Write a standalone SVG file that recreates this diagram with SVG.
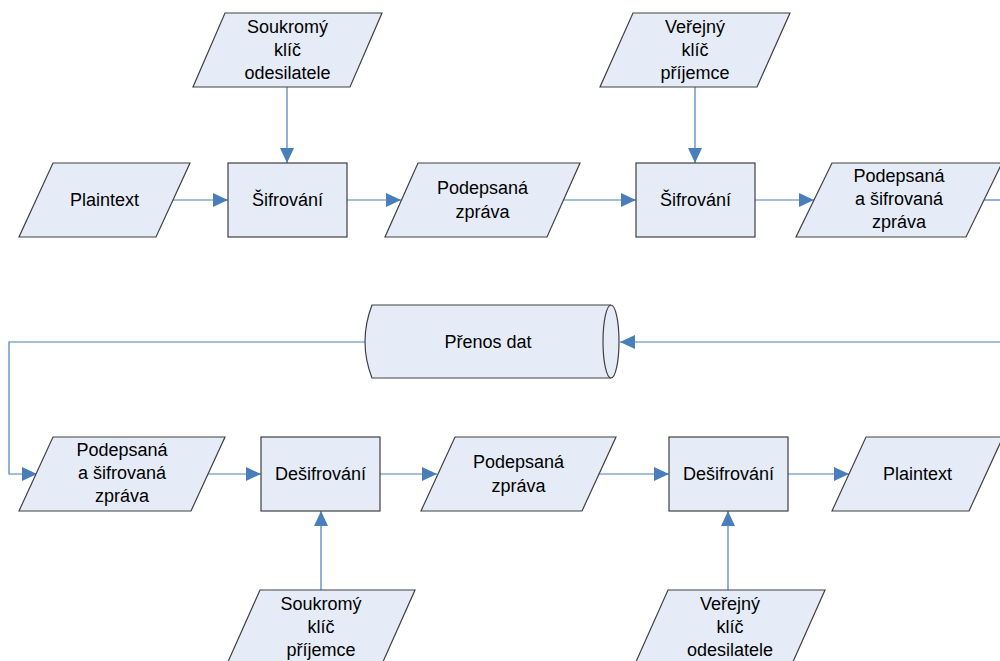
<svg xmlns="http://www.w3.org/2000/svg" width="1000" height="661" viewBox="0 0 1000 661">
<defs>
<marker id="ah" viewBox="0 0 15 14" refX="15" refY="7" markerWidth="15" markerHeight="14" markerUnits="userSpaceOnUse" orient="auto">
<path d="M0,0 L15,7 L0,14 Z" fill="#4A7EBB"/>
</marker>
<style>
.s{fill:#E6ECF7;stroke:#404040;stroke-width:1.2}
.t{font-family:"Liberation Sans",Arial,sans-serif;font-size:18px;fill:#000;text-anchor:middle}
.c{fill:none;stroke:#4A7EBB;stroke-width:1.2}
.a{marker-end:url(#ah)}
</style>
</defs>
<rect width="1000" height="661" fill="#fff"/>
<g id="connectors">
<path class="c a" d="M287,87 V163"/>
<path class="c a" d="M173,200 H228"/>
<path class="c a" d="M347,200 H401"/>
<path class="c a" d="M695,87 V163"/>
<path class="c a" d="M564,200 H636"/>
<path class="c a" d="M755,200 H814"/>
<path class="c" d="M983,200 H1000"/>
<path class="c a" d="M1000,342 H620"/>
<path class="c a" d="M365,342 H9 V474 H37"/>
<path class="c a" d="M208,474 H261"/>
<path class="c a" d="M380,474 H437"/>
<path class="c a" d="M599,474 H669"/>
<path class="c a" d="M788,474 H849"/>
<path class="c a" d="M321,590 V511"/>
<path class="c a" d="M728,590 V511"/>
</g>
<g id="n_sk_odes">
<polygon class="s" points="225,13 382,13 350,87 193,87"/>
<text class="t" x="287.5" y="33">Soukromý</text>
<text class="t" x="287.5" y="56">klíč</text>
<text class="t" x="287.5" y="79">odesilatele</text>
</g>
<g id="n_plain1">
<polygon class="s" points="53,163 190,163 156,237 19,237"/>
<text class="t" x="104.5" y="206">Plaintext</text>
</g>
<g id="n_sifr1">
<rect class="s" x="228" y="163" width="119" height="74"/>
<text class="t" x="287.5" y="206">Šifrování</text>
</g>
<g id="n_podep1">
<polygon class="s" points="418,163 580,163 547,237 385,237"/>
<text class="t" x="482.5" y="194">Podepsaná</text>
<text class="t" x="482.5" y="218">zpráva</text>
</g>
<g id="n_ver_prij">
<polygon class="s" points="633,13 790,13 757,87 600,87"/>
<text class="t" x="695" y="33">Veřejný</text>
<text class="t" x="695" y="56">klíč</text>
<text class="t" x="695" y="79">příjemce</text>
</g>
<g id="n_sifr2">
<rect class="s" x="636" y="163" width="119" height="74"/>
<text class="t" x="695.5" y="206">Šifrování</text>
</g>
<g id="n_podsif1">
<polygon class="s" points="832,163 1002,163 966,237 796,237"/>
<text class="t" x="899" y="182">Podepsaná</text>
<text class="t" x="899" y="205">a šifrovaná</text>
<text class="t" x="899" y="228">zpráva</text>
</g>
<g id="n_prenos">
<path class="s" d="M372,305 H611 A8,36.5 0 0 1 611,378 H372 Q358,341.5 372,305 Z"/>
<path class="s" d="M611,305 A8,36.5 0 0 0 611,378"/>
<text class="t" x="488" y="348">Přenos dat</text>
</g>
<g id="n_podsif2">
<polygon class="s" points="53,437 225,437 191,511 19,511"/>
<text class="t" x="122" y="456">Podepsaná</text>
<text class="t" x="122" y="479">a šifrovaná</text>
<text class="t" x="122" y="502">zpráva</text>
</g>
<g id="n_desifr1">
<rect class="s" x="261" y="437" width="119" height="74"/>
<text class="t" x="320.5" y="480">Dešifrování</text>
</g>
<g id="n_podep2">
<polygon class="s" points="455,437 616,437 582,511 421,511"/>
<text class="t" x="518.5" y="468">Podepsaná</text>
<text class="t" x="518.5" y="492">zpráva</text>
</g>
<g id="n_desifr2">
<rect class="s" x="669" y="437" width="119" height="74"/>
<text class="t" x="728.5" y="480">Dešifrování</text>
</g>
<g id="n_plain2">
<polygon class="s" points="866,437 1003,437 969,511 832,511"/>
<text class="t" x="917.5" y="480">Plaintext</text>
</g>
<g id="n_sk_prij">
<polygon class="s" points="260,590 415,590 382,664 227,664"/>
<text class="t" x="321" y="610">Soukromý</text>
<text class="t" x="321" y="633">klíč</text>
<text class="t" x="321" y="656">příjemce</text>
</g>
<g id="n_ver_odes">
<polygon class="s" points="668,590 825,590 792,664 635,664"/>
<text class="t" x="730" y="610">Veřejný</text>
<text class="t" x="730" y="633">klíč</text>
<text class="t" x="730" y="656">odesilatele</text>
</g>
</svg>
